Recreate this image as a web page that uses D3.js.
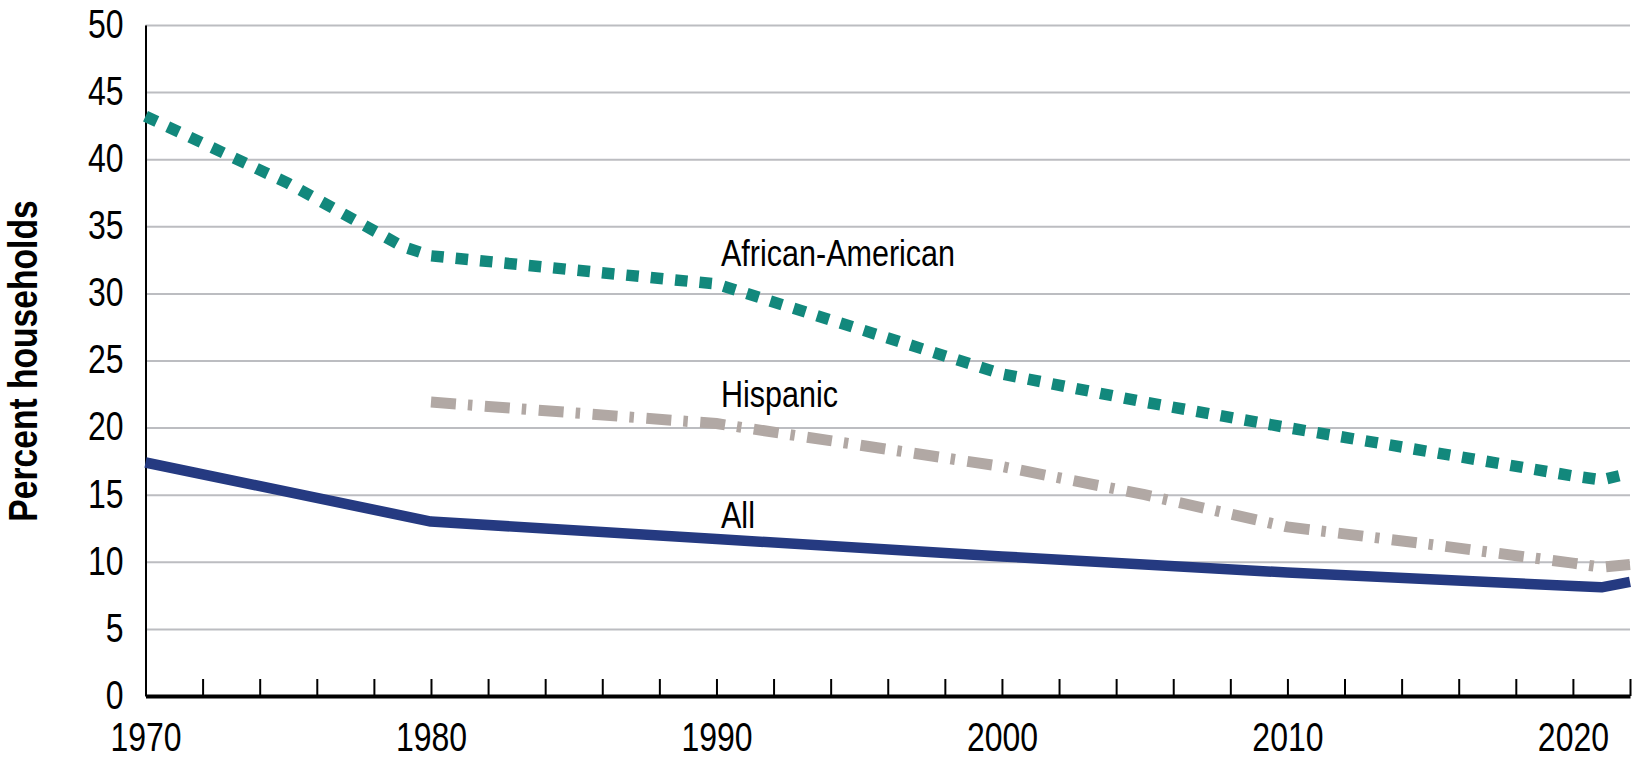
<!DOCTYPE html>
<html lang="en">
<head>
<meta charset="UTF-8">
<title>Percent households</title>
<script src="https://cdn.jsdelivr.net/npm/d3@7"></script>
<style>
  body { margin: 0; background: #fff; }
  svg text { font-family: "Liberation Sans", Arial, sans-serif; fill: #000; }
</style>
</head>
<body>
<div class="chart"></div>
<script>
// series
const allYears = [1970, 1980, 1990, 2000, 2010, 2015, 2020, 2021, 2022]
const allValues = [17.4, 13.0, 11.7, 10.4, 9.2, 8.7, 8.2, 8.1, 8.5]
const afAmYears = [1970, 1975, 1979, 1980, 1990, 2000, 2005, 2010, 2015, 2020, 2021, 2022]
const afAmValues = [43.2, 38.2, 33.5, 32.8, 30.7, 24.0, 21.9, 20.0, 18.2, 16.4, 16.1, 16.6]
const hispYears = [1980, 1990, 2000, 2005, 2010, 2015, 2020, 2021, 2022]
const hispValues = [21.9, 20.3, 17.1, 15.0, 12.6, 11.3, 9.9, 9.6, 9.8]

const seriesNames = ['African-American', 'Hispanic', 'All']
const yTicks = [0, 5, 10, 15, 20, 25, 30, 35, 40, 45, 50]
const xLabelYears = [1970, 1980, 1990, 2000, 2010, 2020]

const width = 1632
const height = 766
const margin = { top: 25, right: 2, bottom: 70, left: 145.5 }
// no narrow face installed, so squeeze the regular one
const tickSqueeze = 0.78
const labelSqueeze = 0.825

const svg = d3.select('.chart')
    .append('svg')
    .attr('width', width)
    .attr('height', height)

const x = d3.scaleLinear().domain([1970, 2022]).range([margin.left, width - margin.right])
const y = d3.scaleLinear().domain([0, 50]).range([height - margin.bottom, margin.top])

// horizontal gridlines
const grid = svg.append('g')
    .attr('transform', `translate(${margin.left},0)`)
    .call(d3.axisLeft(y).tickValues(yTicks.slice(1)).tickSize(-(x.range()[1] - margin.left)).tickFormat(''))
grid.select('.domain').remove()
grid.selectAll('line').attr('stroke', '#bcbdc1').attr('stroke-width', 2)

// y axis
const gy = svg.append('g')
    .attr('transform', `translate(${margin.left},0)`)
    .call(d3.axisLeft(y).tickValues(yTicks).tickSize(0).tickPadding(22))
gy.select('.domain').attr('stroke', '#000').attr('stroke-width', 2)
gy.selectAll('text')
    .attr('font-size', 41)
    .attr('dy', '0.3em')
    .attr('x', -22 / tickSqueeze)
    .attr('transform', `scale(${tickSqueeze},1)`)

// lines
const line = d3.line().x(d => x(d[0])).y(d => y(d[1]))
const zip = (a, b) => a.map((v, i) => [v, b[i]])

svg.append('path')
    .datum(zip(hispYears, hispValues))
    .attr('fill', 'none')
    .attr('stroke', '#b1a8a4')
    .attr('stroke-width', 11)
    .attr('stroke-dasharray', '25 12 4.5 12.5')
    .attr('d', line)

svg.append('path')
    .datum(zip(afAmYears, afAmValues))
    .attr('fill', 'none')
    .attr('stroke', '#12887c')
    .attr('stroke-width', 11.5)
    .attr('stroke-dasharray', '12.5 12')
    .attr('d', line)

svg.append('path')
    .datum(zip(allYears, allValues))
    .attr('fill', 'none')
    .attr('stroke', '#253a81')
    .attr('stroke-width', 10.5)
    .attr('stroke-linejoin', 'round')
    .attr('d', line)

// x axis, drawn over the lines
const gx = svg.append('g')
    .attr('transform', `translate(0,${y(0)})`)
    .call(d3.axisBottom(x)
        .tickValues(d3.range(1970, 2023, 2))
        .tickSizeInner(-17)
        .tickSizeOuter(0)
        .tickFormat(d => xLabelYears.includes(d) ? d : ''))
gx.select('.domain').attr('stroke', '#000').attr('stroke-width', 4)
gx.selectAll('.tick line').attr('stroke', '#000').attr('stroke-width', 2)
gx.selectAll('text')
    .attr('font-size', 41)
    .attr('y', 26)
    .attr('dy', '0.71em')
    .attr('transform', `scale(${tickSqueeze},1)`)

// series labels
const labelX = 721
const labelY = [266, 407, 528]
svg.selectAll('.series-label')
    .data(seriesNames)
    .enter()
    .append('text')
    .attr('class', 'series-label')
    .attr('transform', (d, i) => `translate(${labelX},${labelY[i]}) scale(${labelSqueeze},1)`)
    .attr('font-size', 37)
    .text(d => d)

// y axis title
svg.append('text')
    .attr('transform', `translate(37,361) rotate(-90) scale(0.82,1)`)
    .attr('text-anchor', 'middle')
    .attr('font-size', 41)
    .attr('font-weight', 'bold')
    .text('Percent households')
</script>
</body>
</html>
